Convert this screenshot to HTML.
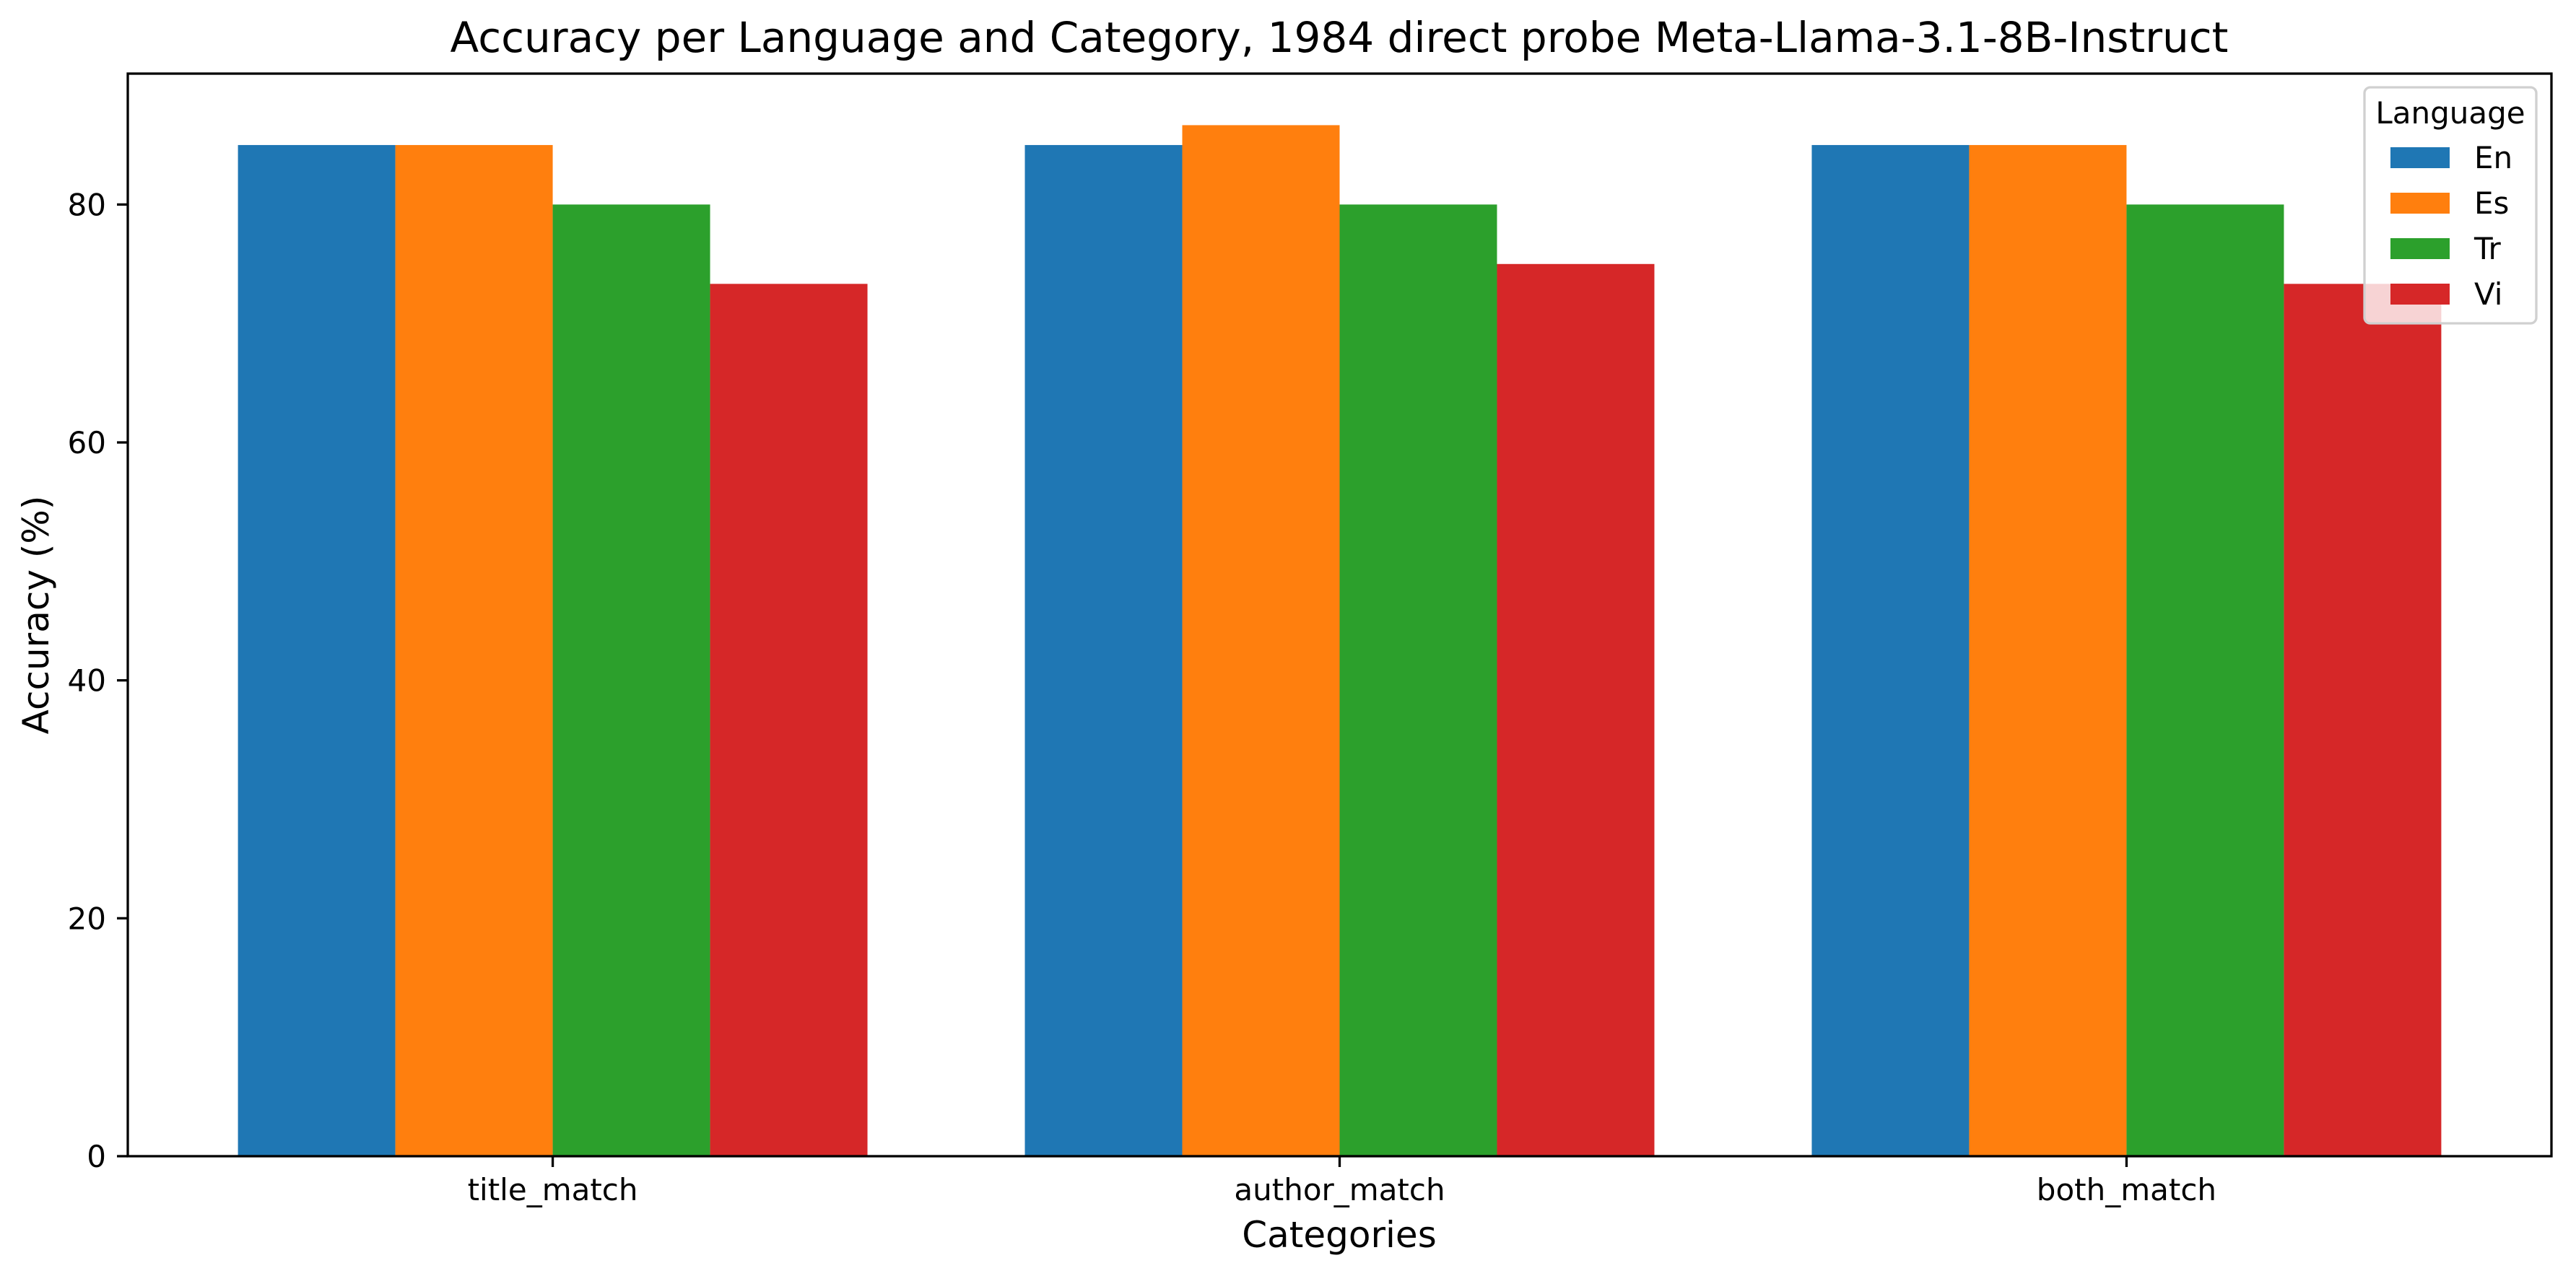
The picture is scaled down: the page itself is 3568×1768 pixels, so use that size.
<!DOCTYPE html>
<html><head><meta charset="utf-8"><style>
html,body{margin:0;padding:0;background:#fff;}
svg{display:block;font-family:"DejaVu Sans","Liberation Sans",sans-serif;}
</style></head><body>
<svg id="chart" width="3568" height="1768" viewBox="0 0 3568 1768" xmlns="http://www.w3.org/2000/svg">
<rect x="0" y="0" width="3568" height="1768" fill="#fff"/>
<text x="1855" y="72" font-size="58" text-anchor="middle">Accuracy per Language and Category, 1984 direct probe Meta-Llama-3.1-8B-Instruct</text>
<g id="plot"></g>
<text x="1855" y="1728" font-size="50" text-anchor="middle">Categories</text>
<text x="0" y="0" font-size="50" text-anchor="middle" transform="translate(67,852) rotate(-90)">Accuracy (%)</text>
</svg>
<script>
const categories = ["title_match", "author_match", "both_match"];
const languages = ["En", "Es", "Tr", "Vi"];
const colors = ["#1f77b4", "#ff7f0e", "#2ca02c", "#d62728"];
const seriesEn = [85, 85, 85];
const seriesEs = [85, 86.67, 85];
const seriesTr = [80, 80, 80];
const seriesVi = [73.33, 75, 73.33];
const yTicks = [0, 20, 40, 60, 80];

const series = [seriesEn, seriesEs, seriesTr, seriesVi];
const NS = "http://www.w3.org/2000/svg";
const L = 177, R = 3534, T = 102, B = 1602;
const barW = 0.2;
const nS = series.length;
const half = nS * barW / 2;
const xMin = -half - 0.05 * ((categories.length - 1) + 2 * half);
const xMax = (categories.length - 1) + half + 0.05 * ((categories.length - 1) + 2 * half);
let maxV = 0; series.forEach(s => s.forEach(v => { if (v > maxV) maxV = v; }));
const yMax = maxV * 1.05;
const xs = v => L + (v - xMin) / (xMax - xMin) * (R - L);
const ys = v => B - v / yMax * (B - T);
const plot = document.getElementById('plot');
function mk(tag, attrs, text) {
  const e = document.createElementNS(NS, tag);
  for (const k in attrs) e.setAttribute(k, attrs[k]);
  if (text !== undefined) e.textContent = text;
  plot.appendChild(e);
  return e;
}
// bars
series.forEach((s, si) => {
  s.forEach((v, ci) => {
    const x0 = ci - half + si * barW;
    const r = mk('rect', {x: xs(x0), y: ys(v), width: xs(x0 + barW) - xs(x0), height: ys(0) - ys(v), fill: colors[si]});
    
    
  });
});
// y ticks
yTicks.forEach(t => {
  const y = ys(t);
  const l = mk('line', {x1: L - 15, x2: L, y1: y, y2: y, stroke: '#000', 'stroke-width': 3.3});
  
  
  const tx = mk('text', {x: L - 30, y: y + 15, 'font-size': 42, 'text-anchor': 'end'}, String(t));
  
  
});
// x ticks
categories.forEach((c, i) => {
  const x = xs(i);
  const l = mk('line', {x1: x, x2: x, y1: B, y2: B + 15, stroke: '#000', 'stroke-width': 3.3});
  
  
  const tx = mk('text', {x: x, y: B + 61, 'font-size': 42, 'text-anchor': 'middle'}, c);
  
  
});
// axes frame
const fr = mk('rect', {x: L, y: T, width: R - L, height: B - T, fill: 'none', stroke: '#000', 'stroke-width': 3.3});


// legend
const lg = mk('rect', {x: 3275, y: 121, width: 238, height: 327, rx: 8, fill: 'rgba(255,255,255,0.8)', stroke: '#d0d0d0', 'stroke-width': 3.3});


const lt = mk('text', {x: 3394, y: 171, 'font-size': 42, 'text-anchor': 'middle'}, 'Language');


languages.forEach((lang, i) => {
  const y = 204 + i * 63;
  const p = mk('rect', {x: 3311, y: y, width: 82, height: 29, fill: colors[i]});
  
  
  const t = mk('text', {x: 3427, y: y + 29, 'font-size': 42}, lang);
  
  
});
</script>
</body></html>
